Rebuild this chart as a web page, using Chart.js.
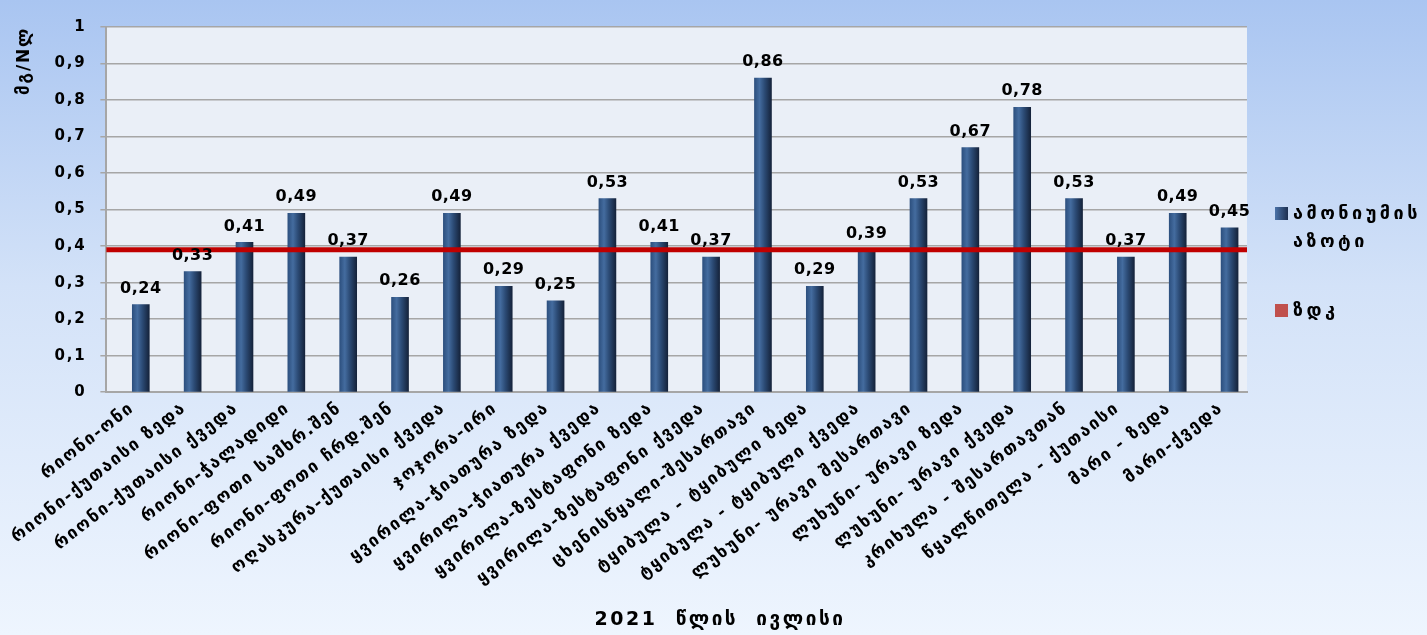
<!DOCTYPE html>
<html>
<head>
<meta charset="utf-8">
<script src="https://cdn.jsdelivr.net/npm/chart.js@4.4.0/dist/chart.umd.min.js"></script>
<style>
  html, body { margin: 0; padding: 0; }
  body {
    width: 1427px; height: 635px; overflow: hidden; position: relative;
    background: linear-gradient(#a9c5f1 0%, #d3e2f8 45%, #eef5fe 100%);
    font-family: "DejaVu Sans", sans-serif;
  }
  #wrap { position: absolute; left: 0; top: 0; width: 1427px; height: 635px; }
  .leg { position: absolute; left: 1275px; font-weight: bold; font-size: 18px; color: #000; line-height: 28px; letter-spacing: 3.5px; }
  .leg i { position: absolute; left: 0; width: 13px; height: 13px; }
  .leg span { display: block; margin-left: 18px; }
  #satauri { position: absolute; left: 0; width: 1440px; top: 607px; text-align: center; font-weight: bold; font-size: 19px; letter-spacing: 2.5px; color: #000; white-space: pre; }
</style>
</head>
<body>
<div id="wrap"><canvas id="grafiki"></canvas></div>
<div class="leg" style="top:199px"><i style="top:8px;background:linear-gradient(90deg,#4a72a8,#1c2f50)"></i><span>ამონიუმის<br>აზოტი</span></div>
<div class="leg" style="top:296px"><i style="top:8px;background:#c0504d"></i><span>ზდკ</span></div>
<div id="satauri">2021  წლის  ივლისი</div>
<script>
const sadgurebi = [
  'რიონი-ონი', 'რიონი-ქუთაისი ზედა', 'რიონი-ქუთაისი ქვედა', 'რიონი-ჭალადიდი',
  'რიონი-ფოთი სამხრ.შენ', 'რიონი-ფოთი ჩრდ.შენ', 'ოღასკურა-ქუთაისი ქვედა', 'ჯოჯორა-ირი',
  'ყვირილა-ჭიათურა ზედა', 'ყვირილა-ჭიათურა ქვედა', 'ყვირილა-ზესტაფონი ზედა', 'ყვირილა-ზესტაფონი ქვედა',
  'ცხენისწყალი-შესართავი', 'ტყიბულა - ტყიბული ზედა', 'ტყიბულა - ტყიბული ქვედა', 'ლუხუნი- ურავი შესართავი',
  'ლუხუნი- ურავი ზედა', 'ლუხუნი- ურავი ქვედა', 'კრიხულა - შესართავთან', 'წყალწითელა - ქუთაისი',
  'მარი - ზედა', 'მარი-ქვედა'
];
const amoniumi = [0.24, 0.33, 0.41, 0.49, 0.37, 0.26, 0.49, 0.29, 0.25, 0.53, 0.41,
                  0.37, 0.86, 0.29, 0.39, 0.53, 0.67, 0.78, 0.53, 0.37, 0.49, 0.45];
const zdk = 0.39;
const zdkXebi = [0, 1];

const mdzime = 'DejaVu Sans';
const mdzimeFont = (s) => ({ family: mdzime, size: s, weight: 'bold' });
const mdzZapyra = (v) => (v === 0 || v === 1) ? String(v) : v.toFixed(1).replace('.', ',');

// qartuli shrifti vitsroa, amitom asoebs shoris cota adgili
const intervali = {
  id: 'intervali',
  beforeLayout(chart) { chart.ctx.letterSpacing = '1.8px'; },
  beforeDraw(chart) { chart.ctx.letterSpacing = '1.8px'; }
};

const fonisPlagini = {
  id: 'foni',
  beforeDraw(chart) {
    const a = chart.chartArea, c = chart.ctx;
    c.save();
    c.fillStyle = '#eaeff7';
    c.fillRect(a.left, a.top, a.right - a.left, a.bottom - a.top);
    c.restore();
  }
};

const svetiPlagini = {
  id: 'sveti',
  beforeDatasetsDraw(chart) {
    const meta = chart.getDatasetMeta(1);
    const c = chart.ctx;
    meta.data.forEach(el => {
      const w = el.width;
      const g = c.createLinearGradient(el.x - w / 2, 0, el.x + w / 2, 0);
      g.addColorStop(0, '#2d507f');
      g.addColorStop(0.3, '#446c9f');
      g.addColorStop(0.6, '#2b4a74');
      g.addColorStop(1, '#15233b');
      el.options.backgroundColor = g;
    });
  },
  afterDatasetsDraw(chart) {
    const meta = chart.getDatasetMeta(1);
    const c = chart.ctx;
    c.save();
    c.letterSpacing = '0.5px';
    c.font = 'bold 16px ' + mdzime;
    c.fillStyle = '#000';
    c.textAlign = 'center';
    c.textBaseline = 'bottom';
    meta.data.forEach((el, i) => {
      c.fillText(amoniumi[i].toFixed(2).replace('.', ','), el.x, el.y - 8);
    });
    c.restore();
  }
};

new Chart(document.getElementById('grafiki'), {
  type: 'bar',
  data: {
    labels: sadgurebi,
    datasets: [
      {
        type: 'line',
        label: 'ზდკ',
        xAxisID: 'xz',
        data: zdkXebi.map(x => ({ x: x, y: zdk })),
        borderColor: '#c00000',
        borderWidth: 5,
        pointRadius: 0,
        clip: false,
        order: 0
      },
      {
        label: 'ამონიუმის აზოტი',
        data: amoniumi,
        backgroundColor: () => '#2f5080',
        borderWidth: 0,
        barThickness: 17,
        order: 1
      }
    ]
  },
  options: {
    responsive: true,
    maintainAspectRatio: false,
    animation: false,
    layout: { padding: { left: 14, right: 180, top: 27, bottom: 40 } },
    plugins: {
      legend: { display: false },
      tooltip: { enabled: false }
    },
    scales: {
      x: {
        grid: { display: false, drawTicks: false },
        border: { color: '#a6a6a6', width: 2 },
        ticks: {
          color: '#000',
          font: { family: mdzime, size: 17, weight: 'bold' },
          minRotation: 38,
          maxRotation: 38,
          autoSkip: false,
          padding: 6
        }
      },
      xz: { type: 'linear', display: false, offset: false, min: 0, max: 1 },
      y: {
        min: 0,
        max: 1,
        ticks: {
          stepSize: 0.1,
          color: '#000',
          font: mdzimeFont(15),
          padding: 14,
          callback: mdzZapyra
        },
        grid: { color: '#a6a6a6', lineWidth: 1.5, tickLength: 6 },
        border: { color: '#a6a6a6', width: 2 },
        title: {
          display: true,
          text: 'მგ/Nლ',
          align: 'end',
          color: '#000',
          font: mdzimeFont(17),
          padding: { top: 0, bottom: 6 }
        }
      }
    }
  },
  plugins: [intervali, fonisPlagini, svetiPlagini]
});
</script>
</body>
</html>
